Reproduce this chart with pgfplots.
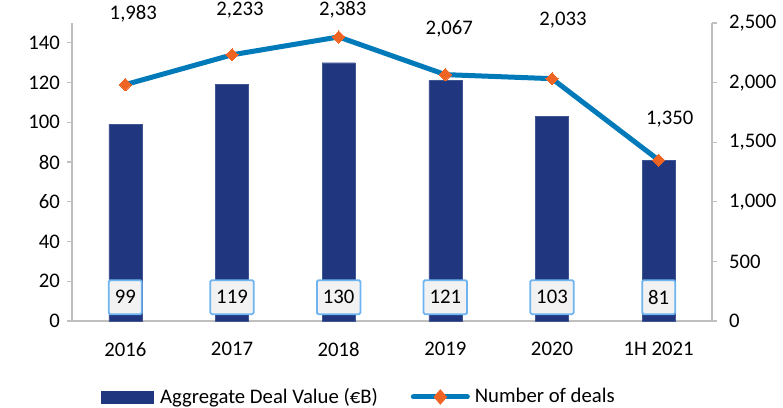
\documentclass[border=0pt]{standalone}
\usepackage{pgfplots}
\pgfplotsset{compat=1.18}
\usepackage{fontspec}
\setmainfont{Carlito}
\definecolor{barblue}{RGB}{32,55,128}
\definecolor{lineblue}{RGB}{0,122,184}
\definecolor{mkorange}{RGB}{240,100,35}
\definecolor{axgray}{RGB}{191,191,191}
\definecolor{boxborder}{RGB}{110,180,240}
\definecolor{boxfill}{RGB}{242,242,242}
\newcommand{\fs}{\fontsize{20.8}{24}\selectfont}
\begin{document}
\fs
\begin{tikzpicture}
\path[use as bounding box] (-72bp,-87bp) rectangle (711bp,321bp);
\begin{axis}[
  scale only axis, width=640bp, height=298bp,
  at={(0,0)}, anchor=south west,
  xmin=-0.5, xmax=5.5, ymin=0, ymax=150,
  axis y line*=left, axis x line*=bottom,
  axis line style={draw=axgray, line width=1.2bp, -},
  xtick={0,1,2,3,4,5},
  xticklabels={2016,2017,2018,2019,2020,1H 2021},
  x tick style={draw=none},
  ytick={0,20,...,140},
  y tick style={draw=axgray, line width=1.2bp},
  tick align=outside, major tick length=5bp,
  ticklabel style={font=\fs},
  xticklabel style={yshift=-9bp},
  /pgf/number format/assume math mode=true,
  clip=false,
]
\addplot[ybar, bar width=33bp, fill=barblue, draw=barblue!85!white] coordinates {(0,99)(1,119)(2,130)(3,121)(4,103)(5,81)};
\foreach \i/\v in {0/99,1/119,2/130,3/121,4/103,5/81}{
  \edef\temp{\noexpand\node[draw=boxborder, line width=1.8bp, rounded corners=1.5bp, fill=boxfill, minimum height=34bp, inner xsep=6bp, font=\noexpand\fs] at (axis cs:\i,12) {\v};}
  \temp
}
\end{axis}
\begin{axis}[
  scale only axis, width=640bp, height=298bp,
  at={(0,0)}, anchor=south west,
  xmin=-0.5, xmax=5.5, ymin=0, ymax=2500,
  axis y line*=right, axis x line=none,
  axis line style={draw=axgray, line width=1.2bp, -},
  ytick={0,500,...,2500},
  y tick style={draw=axgray, line width=1.2bp},
  tick align=outside, major tick length=5bp,
  ticklabel style={font=\fs},
  yticklabel style={xshift=5bp},
  /pgf/number format/1000 sep={,},
  /pgf/number format/assume math mode=true,
  clip=false,
  legend columns=2,
  legend style={at={(0.448,-0.255)}, anchor=center, draw=none, fill=none,
    font=\fs, /tikz/every even column/.append style={column sep=31bp}},
]
\addlegendimage{legend image code/.code={\fill[barblue] (-40bp,-6bp) rectangle (12bp,6bp); \path (17bp,0bp);}}
\addlegendentry{Aggregate Deal Value (€B)}
\addplot[lineblue, line width=5bp, mark=square*, mark size=4.3bp, mark options={fill=mkorange, draw=mkorange, line width=0pt, rotate=45},
  legend image code/.code={\draw[lineblue, line width=5bp, line cap=round] (-42bp,0bp) -- (12bp,0bp); \fill[mkorange] (-15bp,0bp) ++(0,4bp) -- ++(3.5bp,-4bp) -- ++(-3.5bp,-4bp) -- ++(-3.5bp,4bp) -- cycle; \path (15bp,0bp);}]
  coordinates {(0,1983)(1,2233)(2,2383)(3,2067)(4,2033)(5,1350)};
\addlegendentry{Number of deals}
\node[font=\fs, xshift=8bp] at (axis cs:0,2580) {1,983};
\node[font=\fs, xshift=8bp] at (axis cs:1,2608) {2,233};
\node[font=\fs, xshift=4bp] at (axis cs:2,2608) {2,383};
\node[font=\fs, xshift=4bp] at (axis cs:3,2450) {2,067};
\node[font=\fs, xshift=11bp] at (axis cs:4,2525) {2,033};
\node[font=\fs, xshift=11bp] at (axis cs:5,1695) {1,350};
\end{axis}
\end{tikzpicture}
\end{document}
